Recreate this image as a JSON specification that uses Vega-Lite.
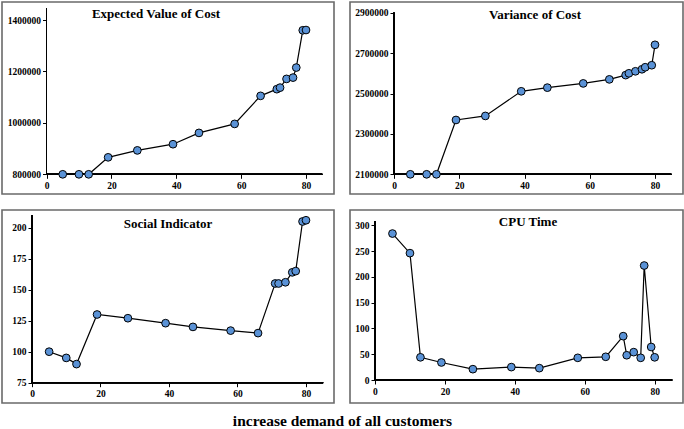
{
  "$schema": "https://vega.github.io/schema/vega-lite/v6.json",
  "padding": {"left": 1, "top": 1, "right": 1, "bottom": 2},
  "background": "white",
  "datasets": {
    "demand": [
      {"demand": 5, "expected": 800000, "variance": 2100000, "social": 100, "cpu": 284},
      {"demand": 10, "expected": 800000, "variance": 2100000, "social": 95, "cpu": 246},
      {"demand": 13, "expected": 800000, "variance": 2100000, "social": 90, "cpu": 44},
      {"demand": 19, "expected": 866000, "variance": 2369000, "social": 130, "cpu": 34},
      {"demand": 28, "expected": 893000, "variance": 2389000, "social": 127, "cpu": 21},
      {"demand": 39, "expected": 917000, "variance": 2511000, "social": 123, "cpu": 25},
      {"demand": 47, "expected": 961000, "variance": 2529000, "social": 120, "cpu": 23},
      {"demand": 58, "expected": 996000, "variance": 2550000, "social": 117, "cpu": 43},
      {"demand": 66, "expected": 1105000, "variance": 2570000, "social": 115, "cpu": 45},
      {"demand": 71, "expected": 1131000, "variance": 2591000, "social": 155, "cpu": 85},
      {"demand": 72, "expected": 1137000, "variance": 2600000, "social": 155, "cpu": 48},
      {"demand": 74, "expected": 1171000, "variance": 2610000, "social": 156, "cpu": 54},
      {"demand": 76, "expected": 1176000, "variance": 2620000, "social": 164, "cpu": 43},
      {"demand": 77, "expected": 1215000, "variance": 2630000, "social": 165, "cpu": 222},
      {"demand": 79, "expected": 1360000, "variance": 2640000, "social": 205, "cpu": 64},
      {"demand": 80, "expected": 1361000, "variance": 2741000, "social": 206, "cpu": 44}
    ]
  },
  "title": {"text": "increase demand of all customers", "orient": "bottom", "anchor": "middle", "offset": 22, "baseline": "alphabetic", "font": "Liberation Serif", "fontSize": 15.5, "fontWeight": "bold", "color": "black"},
  "columns": 2,
  "spacing": {"row": 16, "column": 16},
  "bounds": "flush",
  "concat": [
    {
      "width": 332, "height": 192,
      "view": {"stroke": "#6a6a6a", "strokeWidth": 1.6},
      "title": {"text": "Expected Value of Cost", "frame": "group", "anchor": "middle", "dx": -12, "offset": -29, "baseline": "alphabetic", "font": "Liberation Serif", "fontSize": 13, "fontWeight": "bold", "color": "black"},
      "data": {"name": "demand"},
      "layer": [
        {"mark": {"type": "rule", "color": "black", "strokeWidth": 1}, "encoding": {"x": {"datum": 0, "title": null}, "y": {"datum": 800000, "title": null}, "y2": {"datum": 1445000}}},
        {"mark": {"type": "rule", "color": "black", "strokeWidth": 1}, "encoding": {"y": {"datum": 800000, "title": null}, "x": {"datum": 0, "title": null}, "x2": {"datum": 85}}},
        {"mark": {"type": "line", "color": "black", "strokeWidth": 1.2},
         "encoding": {
           "x": {"field": "demand", "type": "quantitative", "scale": {"domain": [-13.72, 88.63], "nice": false, "zero": false}, "axis": {"values": [0, 20, 40, 60, 80], "tickCount": 20, "offset": -19.7, "title": null, "format": "d", "labelOverlap": false}},
           "y": {"field": "expected", "type": "quantitative", "scale": {"domain": [723400, 1470000], "nice": false, "zero": false}, "axis": {"values": [800000, 1000000, 1200000, 1400000], "tickCount": 20, "offset": -44.5, "title": null, "format": "d", "labelOverlap": false}}
         }},
        {"mark": {"type": "point", "shape": "circle", "filled": true, "fill": "#5A92D6", "stroke": "black", "strokeWidth": 1, "size": 60, "opacity": 1},
         "encoding": {
           "x": {"field": "demand", "type": "quantitative"},
           "y": {"field": "expected", "type": "quantitative"}
         }}
      ]
    },
    {
      "width": 333, "height": 192,
      "view": {"stroke": "#6a6a6a", "strokeWidth": 1.6},
      "title": {"text": "Variance of Cost", "frame": "group", "anchor": "middle", "dx": 18.5, "offset": -30, "baseline": "alphabetic", "font": "Liberation Serif", "fontSize": 13, "fontWeight": "bold", "color": "black"},
      "data": {"name": "demand"},
      "layer": [
        {"mark": {"type": "rule", "color": "black", "strokeWidth": 1}, "encoding": {"x": {"datum": 0, "title": null}, "y": {"datum": 2100000, "title": null}, "y2": {"datum": 2900000}}},
        {"mark": {"type": "rule", "color": "black", "strokeWidth": 1}, "encoding": {"y": {"datum": 2100000, "title": null}, "x": {"datum": 0, "title": null}, "x2": {"datum": 85}}},
        {"mark": {"type": "line", "color": "black", "strokeWidth": 1.2},
         "encoding": {
           "x": {"field": "demand", "type": "quantitative", "scale": {"domain": [-13.49, 88.58], "nice": false, "zero": false}, "axis": {"values": [0, 20, 40, 60, 80], "tickCount": 20, "offset": -19.7, "title": null, "format": "d", "labelOverlap": false}},
           "y": {"field": "variance", "type": "quantitative", "scale": {"domain": [2002500, 2953000], "nice": false, "zero": false}, "axis": {"values": [2100000, 2300000, 2500000, 2700000, 2900000], "tickCount": 20, "offset": -44, "title": null, "format": "d", "labelOverlap": false}}
         }},
        {"mark": {"type": "point", "shape": "circle", "filled": true, "fill": "#5A92D6", "stroke": "black", "strokeWidth": 1, "size": 60, "opacity": 1},
         "encoding": {
           "x": {"field": "demand", "type": "quantitative"},
           "y": {"field": "variance", "type": "quantitative"}
         }}
      ]
    },
    {
      "width": 332, "height": 193,
      "view": {"stroke": "#6a6a6a", "strokeWidth": 1.6},
      "title": {"text": "Social Indicator", "frame": "group", "anchor": "middle", "dx": 0, "offset": -31, "baseline": "alphabetic", "font": "Liberation Serif", "fontSize": 13, "fontWeight": "bold", "color": "black"},
      "data": {"name": "demand"},
      "layer": [
        {"mark": {"type": "rule", "color": "black", "strokeWidth": 1}, "encoding": {"x": {"datum": 0, "title": null}, "y": {"datum": 75, "title": null}, "y2": {"datum": 210}}},
        {"mark": {"type": "rule", "color": "black", "strokeWidth": 1}, "encoding": {"y": {"datum": 75, "title": null}, "x": {"datum": 0, "title": null}, "x2": {"datum": 85}}},
        {"mark": {"type": "line", "color": "black", "strokeWidth": 1.2},
         "encoding": {
           "x": {"field": "demand", "type": "quantitative", "scale": {"domain": [-8.76, 88.18], "nice": false, "zero": false}, "axis": {"values": [0, 20, 40, 60, 80], "tickCount": 20, "offset": -20.3, "title": null, "format": "d", "labelOverlap": false}},
           "y": {"field": "social", "type": "quantitative", "scale": {"domain": [58.63, 214.27], "nice": false, "zero": false}, "axis": {"values": [75, 100, 125, 150, 175, 200], "tickCount": 20, "offset": -30, "title": null, "format": "d", "labelOverlap": false}}
         }},
        {"mark": {"type": "point", "shape": "circle", "filled": true, "fill": "#5A92D6", "stroke": "black", "strokeWidth": 1, "size": 60, "opacity": 1},
         "encoding": {
           "x": {"field": "demand", "type": "quantitative"},
           "y": {"field": "social", "type": "quantitative"}
         }}
      ]
    },
    {
      "width": 333, "height": 193,
      "view": {"stroke": "#6a6a6a", "strokeWidth": 1.6},
      "title": {"text": "CPU Time", "frame": "group", "anchor": "middle", "dx": 11.5, "offset": -29, "baseline": "alphabetic", "font": "Liberation Serif", "fontSize": 13, "fontWeight": "bold", "color": "black"},
      "data": {"name": "demand"},
      "layer": [
        {"mark": {"type": "rule", "color": "black", "strokeWidth": 1}, "encoding": {"x": {"datum": 0, "title": null}, "y": {"datum": 0, "title": null}, "y2": {"datum": 308}}},
        {"mark": {"type": "rule", "color": "black", "strokeWidth": 1}, "encoding": {"y": {"datum": 0, "title": null}, "x": {"datum": 0, "title": null}, "x2": {"datum": 85}}},
        {"mark": {"type": "line", "color": "black", "strokeWidth": 1.2},
         "encoding": {
           "x": {"field": "demand", "type": "quantitative", "scale": {"domain": [-7.15, 88.1], "nice": false, "zero": false}, "axis": {"values": [0, 20, 40, 60, 80], "tickCount": 20, "offset": -23, "title": null, "format": "d", "labelOverlap": false}},
           "y": {"field": "cpu", "type": "quantitative", "scale": {"domain": [-44.6, 329.67], "nice": false, "zero": false}, "axis": {"values": [0, 50, 100, 150, 200, 250, 300], "tickCount": 20, "offset": -25, "title": null, "format": "d", "labelOverlap": false}}
         }},
        {"mark": {"type": "point", "shape": "circle", "filled": true, "fill": "#5A92D6", "stroke": "black", "strokeWidth": 1, "size": 60, "opacity": 1},
         "encoding": {
           "x": {"field": "demand", "type": "quantitative"},
           "y": {"field": "cpu", "type": "quantitative"}
         }}
      ]
    }
  ],
  "config": {
    "axis": {"domain": false, "grid": false, "labelFont": "Liberation Serif", "labelFontWeight": "bold", "labelFontSize": 9.5, "labelColor": "black", "tickColor": "black", "tickSize": 4, "tickWidth": 1, "labelPadding": 2, "labelOverlap": false, "labelBound": false, "labelFlush": false}
  }
}
